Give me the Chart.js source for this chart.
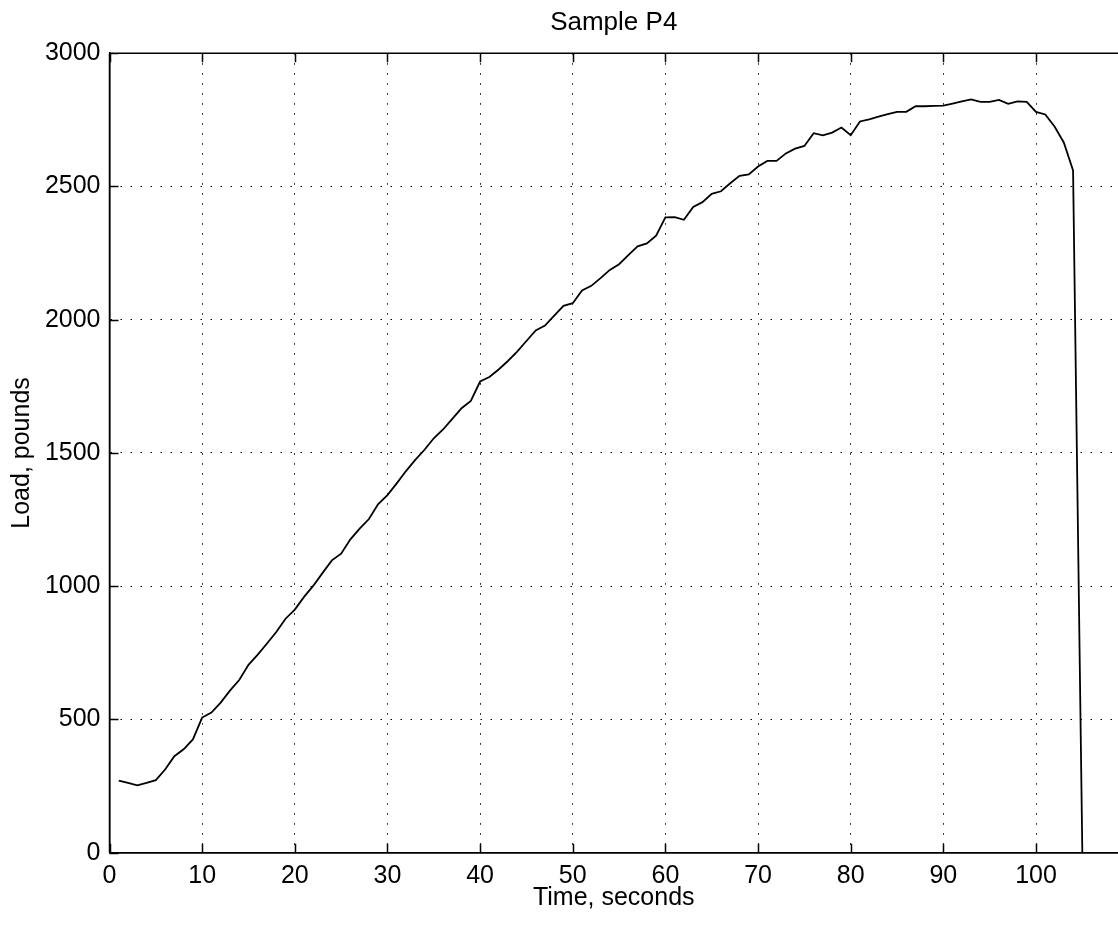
<!DOCTYPE html>
<html>
<head>
<meta charset="utf-8">
<script src="https://cdn.jsdelivr.net/npm/chart.js@4/dist/chart.umd.min.js"></script>
<style>
  html, body { margin: 0; padding: 0; background: #fff; }
  #wrap { width: 1118px; height: 926px; position: relative; }
</style>
</head>
<body>
<div id="wrap"><canvas id="c" width="1118" height="926"></canvas></div>
<script>
// ---- data ----
const timeSec = [1,2,3,4,5,6,7,8,9,10,11,12,13,14,15,16,17,18,19,20,21,22,23,24,25,26,27,28,29,30,
  31,32,33,34,35,36,37,38,39,40,41,42,43,44,45,46,47,48,49,50,51,52,53,54,55,56,57,58,59,60,
  61,62,63,64,65,66,67,68,69,70,71,72,73,74,75,76,77,78,79,80,81,82,83,84,85,86,87,88,89,90,
  91,92,93,94,95,96,97,98,99,100,101,102,103,104,105];
const loadLbs = [270,262,253,262,272,312,362,388,425,507,526,563,608,648,705,743,785,828,878,912,
  960,1002,1050,1097,1122,1176,1216,1252,1308,1342,1386,1432,1474,1512,1555,1588,1628,1668,1695,1768,
  1785,1813,1845,1880,1920,1960,1978,2015,2052,2062,2110,2127,2156,2187,2208,2242,2275,2286,2315,2384,
  2385,2375,2423,2441,2472,2482,2512,2540,2545,2575,2596,2596,2624,2642,2652,2700,2692,2702,2721,2692,
  2744,2752,2762,2771,2780,2780,2801,2801,2802,2803,2811,2819,2827,2817,2817,2825,2810,2819,2817,2780,
  2770,2725,2665,2560,0];
const xTicks = [0,10,20,30,40,50,60,70,80,90,100];
const yTicks = [0,500,1000,1500,2000,2500,3000];
const chartTitle = 'Sample P4';
const xTitle = 'Time, seconds';
const yTitle = 'Load, pounds';

const FONT = "'Liberation Sans', Arial, Helvetica, sans-serif";

const framePlugin = {
  id: 'frame',
  afterDatasetsDraw(chart) {
    const ctx = chart.ctx;
    const a = chart.chartArea;
    const xs = chart.scales.x, ys = chart.scales.y;
    ctx.save();
    ctx.strokeStyle = '#000';
    ctx.lineWidth = 1.5;
    ctx.beginPath();
    ctx.moveTo(a.left, a.top); ctx.lineTo(a.right, a.top);
    ctx.moveTo(a.left, a.top); ctx.lineTo(a.left, a.bottom);
    ctx.moveTo(a.left, a.bottom); ctx.lineTo(a.right, a.bottom);
    const L = 9;
    xTicks.forEach(v => {
      const px = Math.round(xs.getPixelForValue(v)) + 0.5;
      ctx.moveTo(px, a.bottom); ctx.lineTo(px, a.bottom - L);
      ctx.moveTo(px, a.top); ctx.lineTo(px, a.top + L);
    });
    yTicks.forEach(v => {
      const py = Math.round(ys.getPixelForValue(v)) + 0.5;
      ctx.moveTo(a.left, py); ctx.lineTo(a.left + L, py);
    });
    ctx.stroke();
    ctx.restore();
  }
};

new Chart(document.getElementById('c'), {
  type: 'line',
  data: {
    datasets: [{
      data: timeSec.map((t, i) => ({ x: t, y: loadLbs[i] })),
      borderColor: '#000',
      borderWidth: 1.8,
      pointRadius: 0,
      tension: 0,
      fill: false
    }]
  },
  options: {
    responsive: false,
    animation: false,
    layout: { padding: { left: 0, right: 0, top: 0, bottom: 0 } },
    plugins: {
      legend: { display: false },
      tooltip: { enabled: false },
      title: {
        display: true,
        text: chartTitle,
        fullSize: false,
        color: '#000',
        font: { family: FONT, size: 26, weight: 'normal' },
        padding: { top: 7, bottom: 15 }
      }
    },
    scales: {
      x: {
        type: 'linear',
        min: 0,
        max: 108.85,
        afterBuildTicks(s) { s.ticks = xTicks.map(v => ({ value: v })); },
        afterFit(s) { s.height = 73.3; },
        ticks: {
          autoSkip: false,
          maxRotation: 0,
          color: '#000',
          padding: 8,
          font: { family: FONT, size: 25 },
          callback: v => String(v)
        },
        grid: { color: '#000', lineWidth: 1, drawTicks: false },
        border: { display: true, color: '#000', width: 1.5, dash: [1.5, 8.5] },
        title: {
          display: true, text: xTitle, color: '#000',
          font: { family: FONT, size: 25 },
          padding: { top: 0, bottom: 13 }
        }
      },
      y: {
        type: 'linear',
        min: 0,
        max: 3000,
        afterBuildTicks(s) { s.ticks = yTicks.map(v => ({ value: v })); },
        afterFit(s) { s.width = 109.5; },
        ticks: {
          color: '#000',
          padding: 9,
          font: { family: FONT, size: 25 },
          callback: v => String(v)
        },
        grid: { color: '#000', lineWidth: 1, drawTicks: false },
        border: { display: true, color: '#000', width: 1.5, dash: [1.5, 8.5] },
        title: {
          display: true, text: yTitle, color: '#000',
          font: { family: FONT, size: 25 },
          padding: { top: 7, bottom: 0 }
        }
      }
    }
  },
  plugins: [framePlugin]
});
</script>
</body>
</html>
